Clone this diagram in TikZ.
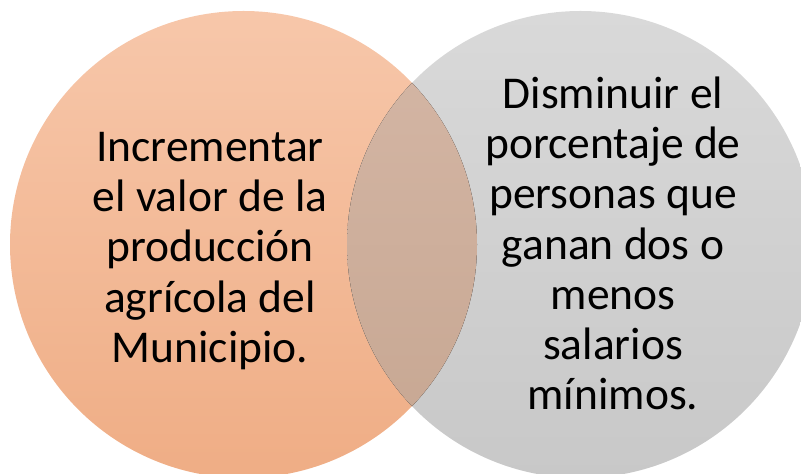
\documentclass[tikz,border=0pt]{standalone}
\usepackage{fontspec}
\setmainfont{Carlito}
\usepackage{tikz}
\usetikzlibrary{positioning}

\definecolor{naranjaArriba}{RGB}{247,199,170}
\definecolor{naranjaAbajo}{RGB}{239,173,133}
\definecolor{grisArriba}{RGB}{217,217,217}
\definecolor{grisAbajo}{RGB}{200,200,200}
\definecolor{mezclaArriba}{RGB}{213,183,166}
\definecolor{mezclaAbajo}{RGB}{198,166,145}

\begin{document}
\begin{tikzpicture}[x=1pt, y=1pt,
    circulo/.style={circle, minimum size=467pt, inner sep=0pt},
    texto/.style={align=center, inner sep=0pt, font=\fontsize{45.5}{50.25}\selectfont}]

    % Rahmen
    \useasboundingbox (0,0) rectangle (801,474);

    % Kreise
    \node (izquierda) at (243.5,229.5) [circulo, top color=naranjaArriba, bottom color=naranjaAbajo] {};
    \node (derecha) at (580.5,229.5) [circulo, top color=grisArriba, bottom color=grisAbajo] {};

    % Schnittmenge
    \begin{scope}
        \clip (izquierda.center) circle (233.5);
        \fill[top color=mezclaArriba, bottom color=mezclaAbajo] (derecha.center) circle (233.5);
    \end{scope}

    % Texte
    \node (textoIzquierda) at (210,223) [texto] {Incrementar\\el valor de la\\producción\\agrícola del\\Municipio.};
    \node (textoDerecha) at (613,230.5) [texto] {Disminuir el\\porcentaje de\\personas que\\ganan dos o\\menos\\salarios\\mínimos.};

\end{tikzpicture}
\end{document}
